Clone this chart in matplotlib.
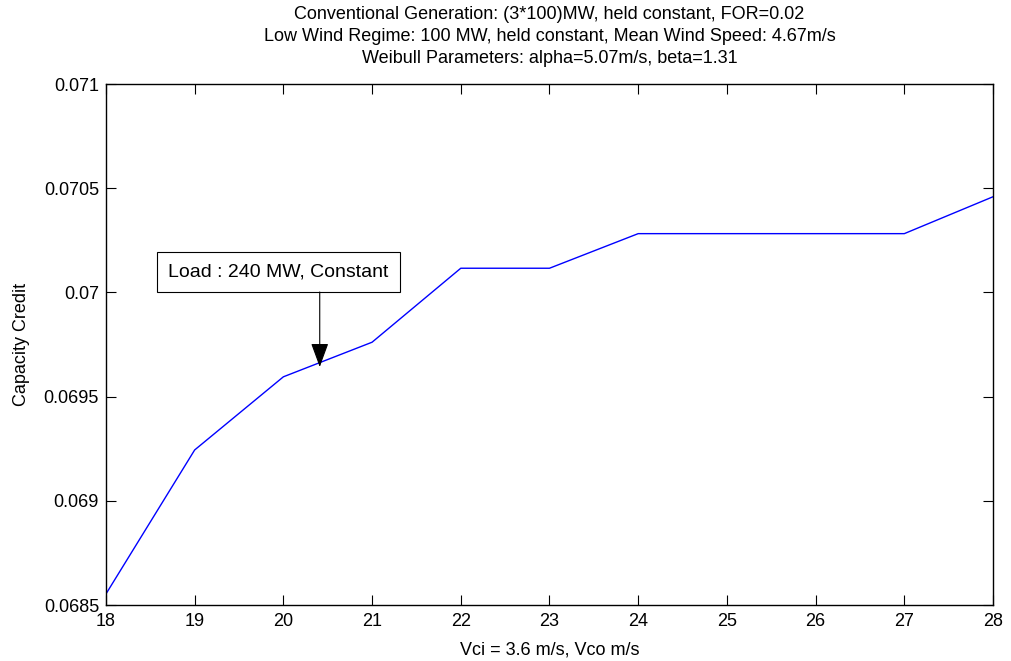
import numpy as np
import matplotlib.pyplot as plt

plt.rcParams['font.family'] = ['Liberation Sans', 'DejaVu Sans']

# cut-out wind speed (m/s) vs capacity credit
vco = [18, 19, 20, 21, 22, 23, 24, 25, 26, 27, 28]
credit = [0.068553, 0.069244, 0.069595, 0.069761, 0.070116, 0.070116,
          0.070282, 0.070282, 0.070282, 0.070282, 0.070459]

xticks = np.arange(18, 29)
yticks = [0.0685, 0.069, 0.0695, 0.07, 0.0705, 0.071]
ytick_labels = ['0.0685', '0.069', '0.0695', '0.07', '0.0705', '0.071']

title = ('Conventional Generation: (3*100)MW, held constant, FOR=0.02\n'
         'Low Wind Regime: 100 MW, held constant, Mean Wind Speed: 4.67m/s\n'
         'Weibull Parameters: alpha=5.07m/s, beta=1.31')

note = 'Load : 240 MW, Constant'
note_xy = (19.94, 0.070098)       # box centre
arrow_from = (20.41, 0.070002)
arrow_to = (20.41, 0.069642)


def main():
    fig = plt.figure(figsize=(10.11, 6.61), dpi=100)
    ax = fig.add_axes([0.1048, 0.0847, 0.8774, 0.7882])

    ax.plot(vco, credit, color='#0000ff', lw=1.0)

    ax.set_xlim(18, 28)
    ax.set_ylim(0.0685, 0.071)
    ax.set_xticks(xticks)
    ax.set_yticks(yticks)
    ax.set_yticklabels(ytick_labels)
    ax.tick_params(direction='in', top=True, right=True, length=7,
                   labelsize=13)
    ax.tick_params(axis='x', pad=6)
    ax.tick_params(axis='y', pad=5)
    for sp in ax.spines.values():
        sp.set_linewidth(1.0)

    ax.set_xlabel('Vci = 3.6 m/s, Vco m/s', fontsize=13, labelpad=8)
    ax.set_ylabel('Capacity Credit', fontsize=13, labelpad=10)
    ax.set_title(title, fontsize=13, linespacing=1.4, pad=15)

    ax.text(*note_xy, note, fontsize=14, ha='center', va='center',
            bbox=dict(boxstyle='square,pad=0.58', fc='white', ec='black', lw=0.8))
    ax.annotate('', xy=arrow_to, xytext=arrow_from,
                arrowprops=dict(arrowstyle='-|>,head_length=1.5,head_width=0.55',
                                mutation_scale=10, color='black', lw=0.8,
                                shrinkA=0, shrinkB=0))

    fig.savefig('out.png', dpi=100)


if __name__ == '__main__':
    main()
